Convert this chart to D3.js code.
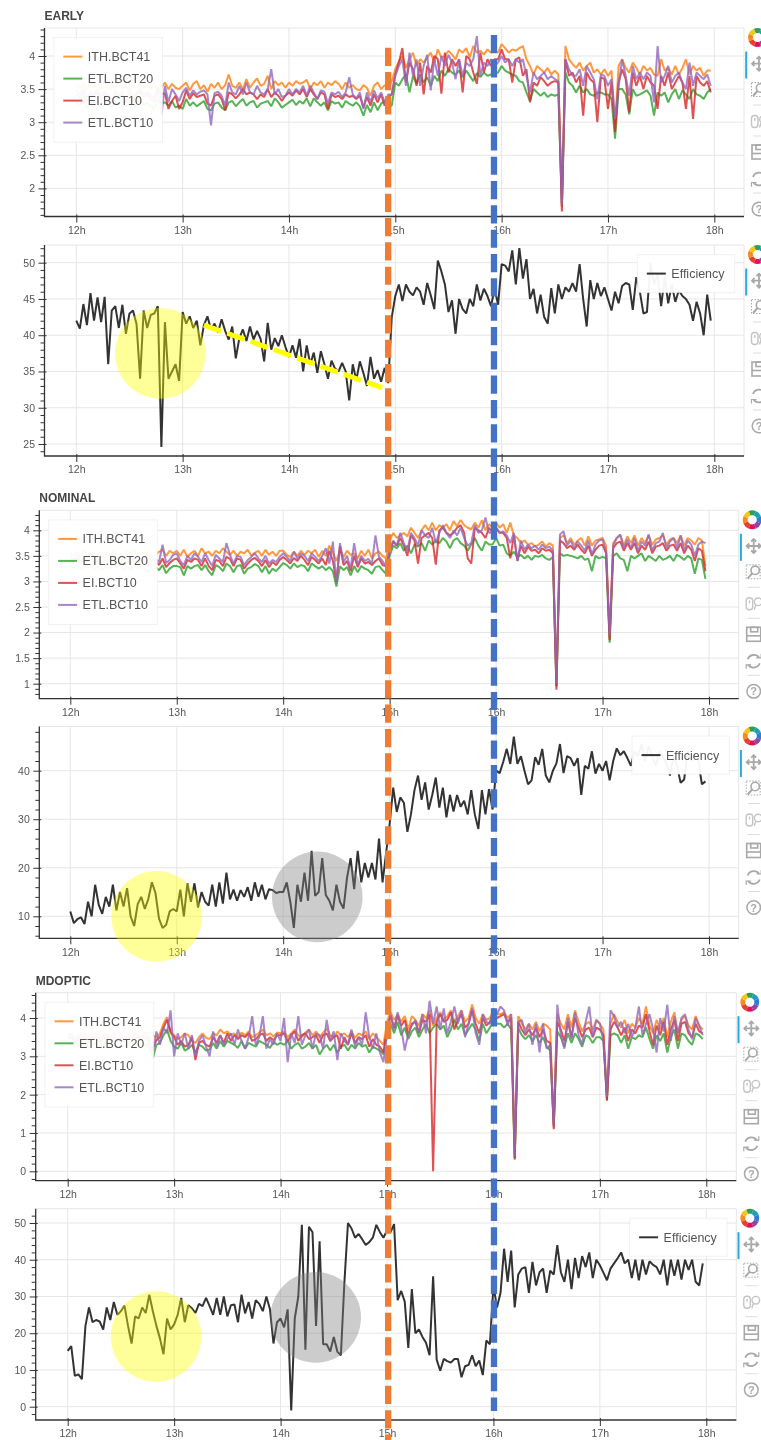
<!DOCTYPE html>
<html>
<head>
<meta charset="utf-8">
<script src="https://cdn.jsdelivr.net/npm/d3@7"></script>
<style>
  html, body { margin: 0; padding: 0; background: #fff; overflow: hidden; }
  text { font-family: "Liberation Sans", Arial, sans-serif; }
  svg { filter: blur(0.35px); }
</style>
</head>
<body>
<div id="chart"></div>
<script>
// series names
var lineNames = ["ITH.BCT41", "ETL.BCT20", "EI.BCT10", "ETL.BCT10"];
var effName = "Efficiency";
var lineColors = ["#ff7f0e", "#2ca02c", "#d62728", "#9467bd"];
var hourTicks = [12, 13, 14, 15, 16, 17, 18];

// all series are one value every 2 minutes from 12h, three rows per hour
var earlyIth = [
3.55,3.5,3.58,3.48,3.6,3.52,3.56,3.5,3.6,3.48,
3.56,3.52,3.6,3.5,3.55,3.48,3.58,3.52,3.6,3.5,
3.56,3.5,3.58,3.46,3.52,3.6,3.5,3.58,3.52,3.5,
3.55,3.6,3.48,3.58,3.62,3.5,3.56,3.46,3.58,3.52,
3.6,3.5,3.56,3.72,3.55,3.52,3.6,3.5,3.65,3.52,
3.6,3.66,3.55,3.58,3.7,3.5,3.62,3.56,3.6,3.52,
3.6,3.55,3.62,3.58,3.6,3.64,3.5,3.6,3.56,3.62,
3.52,3.6,3.56,3.62,3.58,3.5,3.6,3.52,3.56,3.5,
3.48,3.56,3.52,3.4,3.55,3.6,3.5,3.56,3.5,3.62,
3.8,3.92,4,3.82,3.95,4.05,3.85,3.95,3.9,3.98,
4.05,3.9,4.1,3.98,4,4.08,4.02,3.95,4.1,4.05,
4.12,3.98,4.15,4.05,4.08,4.02,4.1,4.05,4.08,4.05,
4.18,4.12,4.05,4.1,4.08,4.12,4.15,3.95,3.85,3.72,
3.85,3.8,3.75,3.82,3.72,3.78,3.72,1.72,4.15,3.95,
3.88,3.82,3.9,3.78,3.85,3.9,3.75,3.8,3.72,3.8,
3.7,3.78,2.95,3.85,3.95,3.82,3.75,3.9,3.82,3.72,
3.85,3.78,3.82,3.72,3.7,3.95,3.78,3.82,3.72,3.85,
3.72,3.82,3.95,3.72,3.85,3.78,3.82,3.7,3.78,3.78];
var earlyEtl20 = [
3.3,3.26,3.33,3.22,3.3,3.28,3.32,3.2,3.3,3.25,
3.22,3.3,3.26,3.32,3.24,3.3,3.2,3.28,3.33,3.25,
3.3,3.24,3.2,3.35,3.28,3.3,3.25,3.32,3.22,3.25,
3.2,3.35,3.25,3.3,3.24,3.28,3.32,3.2,3.18,3.28,
3.3,3.22,3.18,3.3,3.32,3.24,3.3,3.35,3.25,3.3,
3.32,3.22,3.28,3.3,3.32,3.24,3.36,3.3,3.22,3.26,
3.3,3.34,3.26,3.32,3.28,3.36,3.24,3.36,3.3,3.25,
3.3,3.18,3.32,3.28,3.3,3.22,3.32,3.28,3.25,3.3,
3.24,3.1,3.26,3.15,3.3,3.18,3.28,3.32,3.25,3.25,
3.6,3.55,3.65,3.72,3.45,3.7,3.58,3.72,3.6,3.68,
3.55,3.7,3.62,3.78,3.7,3.8,3.75,3.72,3.78,3.68,
3.78,3.7,3.62,3.74,3.68,3.75,3.7,3.72,3.74,3.75,
3.85,3.78,3.75,3.72,3.7,3.62,3.6,3.45,3.32,3.5,
3.45,3.4,3.45,3.38,3.42,3.4,3.42,1.75,3.75,3.6,
3.55,3.45,3.55,3.45,3.5,3.42,3.4,3.45,3.45,3.42,
3.42,3.35,2.75,3.5,3.5,3.42,3.12,3.5,3.4,3.42,
3.45,3.48,3.4,3.1,3.45,3.4,3.45,3.3,3.42,3.5,
3.35,3.48,3.42,3.35,3.5,3.42,3.4,3.35,3.45,3.5];
var earlyEi = [
3.42,3.38,3.45,3.3,3.42,3.4,3.45,3.35,3.42,3.38,
3.3,3.44,3.4,3.42,3.3,3.45,3.32,3.42,3.46,3.38,
3.42,3.35,3.3,3.5,3.42,3.44,3.2,3.32,3.4,3.2,
3.3,3.48,3.35,3.44,3.38,3.4,3.42,3.28,3.25,3.4,
3.42,3.35,3.18,3.45,3.42,3.36,3.42,3.5,3.42,3.45,
3.42,3.35,3.42,3.38,3.5,3.38,3.45,3.4,3.32,3.4,
3.45,3.4,3.48,3.42,3.5,3.38,3.5,3.42,3.35,3.45,
3.42,3.2,3.42,3.38,3.4,3.35,3.42,3.38,3.4,3.35,
3.4,3.22,3.38,3.25,3.42,3.3,3.42,3.25,3.38,3.42,
3.72,3.9,4.12,3.6,3.9,3.8,3.55,3.9,3.42,3.85,
3.75,4,3.95,3.43,4.05,3.75,3.95,3.85,3.95,3.45,
4,3.95,3.75,3.58,4.05,3.75,3.95,3.85,3.95,3.95,
4.1,3.95,3.95,3.6,3.95,3.98,3.7,3.8,3.3,3.6,
3.55,3.68,3.62,3.55,3.6,3.62,3.6,1.65,3.95,3.7,
3.75,3.6,3.7,3.1,3.75,3.65,3.6,3,3.68,3.65,
3.2,3.6,2.85,3.6,3.8,3.65,3.15,3.75,3.55,3.7,
3.5,3.7,3.6,3.55,3.2,3.7,3.55,3.75,3.5,3.6,
3.7,3.6,3.2,3.7,3.05,3.7,3.6,3.55,3.62,3.45];
var earlyEtl10 = [
3.48,3.42,3.5,3.36,3.46,3.44,3.5,3.38,3.46,3.42,
3.34,3.48,3.44,3.46,3.35,3.5,3.38,3.46,3.5,3.42,
3.46,3.4,3.36,3.52,3.1,3.55,3.3,3.5,3.42,3.32,
3.45,3.52,3.4,3.48,3.42,3.46,3.48,3.42,2.95,3.44,
3.46,3.4,3.25,3.6,3.45,3.42,3.55,3.42,3.6,3.45,
3.42,3.55,3.45,3.42,3.5,3.8,3.42,3.5,3.38,3.4,
3.5,3.42,3.5,3.45,3.55,3.4,3.55,3.45,3.35,3.48,
3.46,3.28,3.45,3.42,3.46,3.38,3.45,3.68,3.42,3.36,
3.45,3.2,3.45,3.3,3.48,3.36,3.45,3.3,3.42,3.42,
3.7,3.85,3.95,3.55,4.05,3.7,3.95,3.55,3.85,4.02,
3.48,3.95,3.7,4,3.85,4.02,3.9,3.65,3.95,3.7,
3.9,3.85,3.95,4.3,3.7,3.9,3.85,3.95,3.85,3.9,
4,3.9,3.95,3.85,3.95,3.9,3.95,3.7,3.45,3.75,
3.65,3.7,3.75,3.65,3.7,3.65,3.62,1.75,3.95,3.8,
3.7,3.7,3.8,3.55,3.85,3.75,3.65,3.35,3.72,3.7,
3.55,3.65,3.05,3.55,3.95,3.7,3.4,3.85,3.65,3.75,
3.65,3.75,3.7,3.3,4.15,3.6,3.7,3.85,3.6,3.7,
3.75,3.6,3.5,3.9,3.55,3.75,3.7,3.65,3.72,3.55];

var nominalIth = [
3.55,3.5,3.58,3.48,3.6,3.5,3.55,3.46,3.58,3.5,
3.56,3.48,3.6,3.52,3.55,3.48,3.6,3.55,3.62,3.52,
3.58,3.5,3.56,3.48,3.52,3.58,3.62,3.5,3.6,3.55,
3.6,3.5,3.62,3.48,3.55,3.6,3.5,3.65,3.55,3.58,
3.5,3.6,3.55,3.65,3.58,3.52,3.6,3.5,3.58,3.55,
3.62,3.5,3.56,3.6,3.5,3.62,3.52,3.58,3.5,3.6,
3.6,3.52,3.48,3.58,3.5,3.6,3.52,3.6,3.55,3.62,
3.48,3.6,3.5,3.7,3.55,3.4,3.62,3.48,3.6,3.52,
3.55,3.45,3.6,3.5,3.62,3.45,3.55,3.58,3.5,3.45,
3.8,3.95,3.85,3.9,3.95,3.88,4.05,3.95,3.85,4,
4.1,4,4.15,4,4.1,4.05,4.12,4,4.18,4.08,
4.2,4.1,4.05,4.02,4.15,4.05,4.2,4,4.12,4.05,
4.15,4.05,4.12,3.95,4.15,3.9,3.85,3.75,3.8,3.72,
3.75,3.68,3.72,3.78,3.68,3.75,3.7,0.95,3.85,3.9,
3.75,3.85,3.72,3.8,3.85,3.7,3.88,3.7,3.8,3.82,
3.85,3.7,1.9,3.75,3.85,3.9,3.7,3.88,3.75,3.9,
3.7,3.85,3.75,3.9,3.72,3.82,3.85,3.9,3.72,3.82,
3.85,3.75,3.9,3.7,3.85,3.8,3.72,3.85,3.8,3.3];
var nominalEtl20 = [
3.3,3.26,3.32,3.24,3.3,3.28,3.32,3.25,3.3,3.22,
3.3,3.25,3.32,3.28,3.3,3.22,3.28,3.22,3.3,3.26,
3.3,3.24,3.18,3.3,3.28,3.22,3.32,3.16,3.25,3.3,
3.3,3.28,3.12,3.3,3.25,3.3,3.32,3.22,3.32,3.2,
3.12,3.32,3.28,3.2,3.35,3.3,3.18,3.3,3.32,3.15,
3.25,3.28,3.34,3.3,3.18,3.3,3.15,3.25,3.2,3.28,
3.36,3.32,3.25,3.35,3.28,3.32,3.3,3.2,3.35,3.3,
3.25,3.3,3.22,3.28,3.2,2.9,3.3,3.22,3.28,3.12,
3.3,3.18,3.3,3.25,3.22,3.15,3.28,3.3,3.22,3.15,
3.5,3.7,3.65,3.75,3.6,3.7,3.55,3.72,3.68,3.75,
3.6,3.8,3.72,3.8,3.75,3.85,3.78,3.65,3.8,3.85,
3.75,3.7,3.6,3.72,3.85,3.7,3.6,3.78,3.72,3.72,
3.85,3.7,3.72,3.55,3.5,3.58,3.48,3.52,3.45,3.5,
3.42,3.5,3.48,3.52,3.45,3.42,3.48,0.95,3.55,3.5,
3.52,3.5,3.48,3.45,3.5,3.42,3.45,3.2,3.5,3.45,
3.48,3.45,1.8,3.5,3.55,3.45,3.42,3.2,3.5,3.45,
3.5,3.55,3.4,3.5,3.45,3.4,3.5,3.42,3.45,3.5,
3.4,3.52,3.48,3.42,3.5,3.45,3.15,3.45,3.42,3.05];
var nominalEi = [
3.42,3.38,3.45,3.35,3.42,3.4,3.44,3.36,3.42,3.32,
3.42,3.38,3.45,3.4,3.42,3.35,3.4,3.35,3.44,3.38,
3.42,3.36,3.3,3.42,3.4,3.32,3.45,3.28,3.36,3.42,
3.45,3.35,3.25,3.42,3.38,3.45,3.42,3.3,3.45,3.3,
3.22,3.42,3.4,3.3,3.48,3.44,3.3,3.45,3.42,3.25,
3.35,3.42,3.46,3.4,3.3,3.42,3.28,3.38,3.32,3.42,
3.48,3.42,3.35,3.46,3.4,3.5,3.42,3.32,3.48,3.42,
3.35,3.45,3.32,3.6,3.4,3,3.7,3.32,3.4,3.2,
3.5,3.28,3.45,3.35,3.38,3.32,3.4,3.45,3.32,3.3,
3.6,3.78,3.7,3.85,3.7,3.5,3.9,3.8,3.35,3.85,
3.9,3.95,3.85,3.33,4,4.05,3.95,3.9,3.95,4.05,
4.1,3.95,3.45,3.35,4.05,4,3.95,3.85,4.05,3.95,
4.05,3.95,3.95,3.85,3.45,3.9,3.4,3.7,3.55,3.68,
3.6,3.62,3.55,3.65,3.6,3.62,3.55,0.88,3.8,3.75,
3.65,3.7,3.62,3.72,3.62,3.55,3.7,3.5,3.62,3.7,
3.72,3.55,1.85,3.65,3.75,3.78,3.6,3.75,3.62,3.75,
3.55,3.7,3.62,3.78,3.55,3.68,3.7,3.75,3.6,3.7,
3.72,3.6,3.75,3.55,3.7,3.62,3.4,3.65,3.6,3.2];
var nominalEtl10 = [
3.48,3.42,3.52,3.38,3.5,3.44,3.52,3.4,3.48,3.36,
3.5,3.44,3.52,3.45,3.48,3.4,3.45,3.4,3.5,3.42,
3.46,3.4,3.35,3.48,3.44,3.38,3.72,3.36,3.42,3.52,
3.55,3.4,3.32,3.5,3.42,3.55,3.48,3.38,3.55,3.42,
3.3,3.52,3.45,3.38,3.75,3.52,3.35,3.5,3.48,3.32,
3.42,3.48,3.55,3.45,3.38,3.5,3.35,3.42,3.38,3.48,
3.55,3.48,3.4,3.58,3.45,3.55,3.5,3.4,3.55,3.48,
3.4,3.5,3.65,3.35,3.78,2.95,3.75,3.38,3.5,3.25,
3.75,3.32,3.5,3.4,3.44,3.35,3.9,3.48,3.4,3.28,
3.55,3.8,3.7,3.95,3.75,3.6,3.95,3.85,3.7,4,
3.9,3.85,4.05,3.75,3.95,4.1,3.95,3.85,4,3.9,
4.05,3.85,3.7,3.75,4.1,3.95,4,4.25,3.95,3.95,
4.05,3.95,3.98,3.9,3.75,3.95,3.4,3.8,3.62,3.72,
3.65,3.7,3.62,3.72,3.65,3.68,3.6,1,3.92,3.98,
3.7,3.8,3.65,3.78,3.7,3.6,3.8,3.52,3.72,3.8,
3.82,3.6,1.95,3.7,3.85,3.92,3.65,3.82,3.65,3.85,
3.6,3.78,3.7,3.92,3.6,3.75,3.78,3.95,3.65,3.78,
3.85,3.65,3.9,3.6,3.8,3.72,3.5,3.72,3.78,3.75];

var mdopticIth = [
3.55,3.6,3.45,3.58,3.5,3.62,3.45,3.55,3.6,3.48,
3.55,3.6,3.5,3.62,3.45,3.58,3.48,3.6,3.52,3.62,
3.55,3.5,3.62,3.45,3.55,3.48,3.6,3.85,4.02,3.6,
3.55,3.45,3.5,3.6,3.55,3.4,3.35,3.5,3.6,3.48,
3.45,3.6,3.55,3.7,3.6,3.65,3.55,3.6,3.5,3.62,
3.55,3.65,3.5,3.55,3.62,3.7,3.55,3.6,3.52,3.62,
3.6,3.65,3.5,3.6,3.7,3.55,3.5,3.62,3.7,3.55,
3.65,3.5,3.62,3.72,3.55,3.5,3.65,3.55,3.6,3.5,
3.65,3.48,3.6,3.55,3.65,3.45,3.6,3.5,3.4,3.3,
3.9,4.15,3.95,4.1,3.9,4.05,3.7,4.05,3.95,3.8,
4.1,4,4.2,3.8,4,4.15,3.95,4.05,4.2,3.9,
4.05,4.2,3.9,4,4.35,4,3.85,4.1,3.95,4,
4.2,4.1,4.1,4.15,4,4.1,0.32,4.05,3.85,3.7,
3.85,3.7,3.9,3.65,3.85,3.8,3.7,1.15,4.1,3.85,
3.7,4.1,3.75,4.2,3.9,3.65,3.85,3.9,3.7,3.95,
3.85,3.7,1.9,3.85,4.1,3.9,3.75,3.95,3.6,3.85,
3.75,4,3.85,4.3,3.8,3.6,3.95,3.7,4,3.5,
3.9,4.15,3.6,3.95,4.05,3.8,3.7,4.05,3.8,3.7];
var mdopticEtl20 = [
3.3,3.35,3.25,3.3,3.28,3.35,3.22,3.3,3.35,3.25,
3.3,3.35,3.28,3.32,3.22,3.3,3.25,3.32,3.28,3.35,
3.3,3.25,3.32,3.22,2.95,3.3,3.35,3.55,3.7,3.4,
3.25,3.2,3.35,3.15,3.2,3.3,3.1,3.3,3.25,3.15,
3.18,3.35,3.2,3.4,3.25,3.4,3.35,3.3,3.22,3.4,
3.2,3.35,3.3,3.25,3.4,3.35,3.3,3.22,3.38,3.3,
3.35,3.3,3.4,3.2,3.3,3.35,3.2,3.25,3.35,3.2,
3.3,3.05,3.2,3.3,3.15,3.3,3.1,3.25,3.3,3.15,
3.3,3.2,3.35,3.25,3.3,3.1,3.25,3.2,3.15,3.05,
3.55,3.85,3.6,3.9,3.55,3.75,3.45,3.65,3.75,3.5,
3.7,3.85,3.6,3.75,3.85,3.7,3.8,3.5,3.7,3.95,
3.7,3.85,3.55,3.7,3.85,3.7,3.4,3.85,3.6,3.75,
3.9,3.85,3.85,3.75,3.85,3.7,0.3,3.75,3.55,3.45,
3.55,3.4,3.55,3.35,3.5,3.25,3.15,1.2,3.65,3.5,
3.25,3.6,3.35,3.6,3.45,3.25,3.55,3.5,3.35,3.5,
3.5,3.4,1.85,3.55,3.6,3.55,3.35,3.55,3.2,3.5,
3.45,3.55,3.5,3.75,3.45,3.2,3.55,3.4,3.6,3.1,
3.5,3.7,3.2,3.6,3.55,3.4,3.3,3.6,3.55,3.45];
var mdopticEi = [
3.45,3.5,3.35,3.45,3.42,3.5,3.35,3.45,3.48,3.35,
3.45,3.48,3.42,3.45,3.35,3.45,3.4,3.48,3.42,3.5,
3.45,3.4,3.48,3.35,3.2,3.42,3.5,3.75,3.95,3.65,
3.5,3.3,3.4,3.25,3.3,3.5,2.9,3.35,3.4,3.3,
3.25,3.5,3.35,3.55,3.35,3.6,3.4,3.55,3.45,3.55,
3.5,3.6,3.4,3.45,3.55,3.6,3.4,3.5,3.42,3.55,
3.55,3.6,3.4,3.55,3.65,3.4,3.55,3.6,3.45,3.5,
3.55,3.35,3.55,3.6,3.4,3.5,3.55,3.2,3.5,3.3,
3.6,3.35,3.5,3.45,3.55,3.25,3.45,3.3,3.25,3.1,
3.75,4.05,3.75,4.05,3.8,3.95,3.55,3.85,3.9,3.6,
3.95,3.9,4.1,0,3.9,4.1,3.9,3.95,4.15,3.7,
3.95,4.1,3.75,3.85,4.2,3.85,3.6,4,3.8,3.9,
4.1,4,4.05,4.1,3.9,4,0.35,3.9,3.7,3.55,
3.7,3.55,3.75,3.5,3.7,3.4,3.35,1.1,3.9,3.7,
3.4,3.9,3.5,4,3.75,3.5,3.7,3.75,3.5,3.75,
3.7,3.55,1.85,3.7,3.9,3.75,3.55,3.75,3.4,3.7,
3.6,3.8,3.75,4.1,3.65,3.3,3.8,3.55,3.9,3.3,
3.7,3.95,3.4,3.85,3.9,3.6,3.5,3.85,3.65,3.6];
var mdopticEtl10 = [
3.5,3.58,3.4,3.5,3.45,3.55,3.38,3.5,3.52,3.4,
3.5,3.55,3.45,3.5,3.38,3.5,3.44,3.52,3.46,3.55,
3.5,3.44,3.52,3.4,3.1,3.65,3.3,3.75,3.6,4.2,
3,3.6,3.3,3.6,3.2,3.55,3,3.4,3.55,3.25,
3,3.65,3.25,3.55,3.3,3.45,3.6,3.3,3.7,3.4,
3.2,3.5,4.05,3.3,3.5,4.05,3.2,3.45,3.3,3.6,
3.4,4,2.85,3.6,3.35,4.05,3.3,3.55,3.7,3.2,
3.6,3.55,3.2,3.95,3.4,3.65,2.9,3.6,3.4,3.3,
3.7,3.25,3.5,3.3,4.15,3.5,3.2,3.6,3.1,2.85,
3.6,4.1,3.7,4.15,3.75,3.15,3.6,3.8,3.95,3.6,
4.1,3.6,4.45,3.85,4.3,3.7,4.25,3.6,3.9,4.3,
3.85,4.2,3.5,3.85,4.25,3.6,3.3,4.1,3.9,3.85,
4.25,4.1,4.3,4.2,3.8,4.1,0.4,3.9,3.95,3.6,
3.85,3.3,3.85,3.1,3.85,3.2,3.3,1.2,4.35,3.55,
3.2,4,3.45,4.15,3.55,3.3,3.9,4.3,3.5,3.95,
3.85,3.4,1.95,4.2,4.05,3.75,3.9,3.6,3.85,3.5,
3.75,4.3,3.55,3.85,4.1,3.7,3.1,4,3.65,4.35,
3.4,4.05,3.6,4,4.1,3.7,3.45,4,3.8,3.55];

var earlyEff = [
42,40.9,44.3,41.4,45.8,42,45.2,41.8,45.3,36,43.4,44,41,44.2,40.2,43,43.4,41.5,34,43.4,41,42.8,43,44,24.6,41.8,34,35,36,33.7,
43.2,41.6,42.6,41,42,38.6,41.4,42.6,40.8,41.6,40.4,42.2,40.6,39.4,41.2,36.8,39.6,40.8,39.2,41.2,39.4,40.6,39.5,36.4,41.7,38,39.6,38.5,40,38.4,
37,38.6,36.9,39.5,35,38.6,36,37.6,34.8,37.8,36,34,36.5,35.4,35,36.2,35,31,36,33.8,36.4,34.8,33,37,34,35.2,33.6,35.5,33.4,42.5,
45.4,47,44.7,47,46,45.5,46.6,46,44.2,47.2,45.5,43.6,50.3,48.8,47,43.2,44.8,40.2,45,43.6,43,45,44,47,44.8,46.4,45.4,44,46.4,44.2,
49.8,49.6,48.8,51.7,47,52,47.8,50.5,45,46.4,43,45.6,42.5,41.6,46.5,43,47,45,46.6,46,47.2,46,49.8,45,41.2,47.6,45,47.2,45.4,46.6,
45,43.4,46,44.4,46.8,47.2,47,43.5,48,46,43,43.2,50,47,48.4,44,48,44.4,47,44.6,46.2,45.4,45,44.2,42,44.6,43,40,45.6,42];
var nominalEff = [
11,8.6,9.4,9.8,8.4,13,10,16.5,12.4,10.5,14,12,16.5,11.2,15,12,15.8,10,8,12.5,14,11.5,13.6,17,14.8,9.5,7.6,8.2,11,11.5,
11,15.5,10,16.8,13,16.8,11.8,15,13,12.2,16.5,12,17,12.6,19,13.5,15.5,13.2,15.4,14,16,13.2,17,14,16.5,13.5,15.6,15.4,14.8,15,
15,17,13,7.6,16.5,13,19,13.2,23.5,14.2,15,22,14.4,13.2,11.2,16.5,13,11.6,18,22,15.6,23.5,17,21,18,21,17.6,26,17,23,
29,36.5,31.5,34.5,33.4,27.4,31,36,39,34,37.6,32,35,38.6,32.4,36.5,30.4,35,31.6,35,32.6,33.8,31,36,31,28,36,31,36.2,32,
40,39.5,41.8,44.5,41.4,47,41.4,43,40,37.2,38,42.8,41.2,44.5,39,37.6,40,41.5,45.5,39.5,43,42.6,41,42.6,35,41,40.4,44,39.4,41.4,
40,42,38,42,44.6,43.2,44,42.6,41,44,43,45.5,42,45,43,41,44,43,41.5,39,43,41,37.5,38.2,44,42,43.6,42,37.2,37.8];
var mdopticEff = [
15.2,16.5,8.4,8.8,7.5,22,27,23,23.6,23.2,21,27,23.6,28.5,25,26,27.5,22,17.2,24.6,24,27,25.5,30.5,26,22,18.6,14.3,24,21,
22.4,25,29.6,23,27.6,26.8,25.5,28,27.4,29.6,27.4,25,29.6,25,30,24.6,27.6,27.8,23,30.5,25.4,28.5,24,29,28,26,30,26.6,17.2,23,
24,21.6,26.5,-1,24,30,49.5,15.5,49,47.5,22,45,17,17,15,19,15,14,34,50,48.5,46,47,45.6,44,44.8,46,49.5,47.5,46,
48,47.5,49.7,29,31.5,28.6,16,32,20,21,19,17.4,14,35.5,12.8,9.8,13,12.4,12,13,13,8,11,11.4,14,11,12.6,8.6,18,17,
33,27,31,43,34,42.5,27,36,37.6,38,31,39.4,33,36.6,37.6,31,37,36,44,36.6,34,40,32,40.5,35,41,38,42,35,40,
38.5,36.5,34.4,37.6,39,40.4,42,39,40,35,40,34.4,40,36,39.6,38.6,38,36,40,33,40,35.6,40,34.6,40,37.2,40,34,33,39];

// highlight circles and the trend line, read as [hour, value] on their own panel
var earlyYellow = [12.79, 37.5];
var nominalYellow = [12.81, 10];
var nominalGray = [14.32, 14];
var mdopticYellow = [12.83, 19.1];
var mdopticGray = [14.33, 24.3];
var earlyTrend = [[13.2, 41.4], [14.876, 32.76]];
var orangeHour = 14.933;
var blueHour = 15.928;

var w = 761, h = 1440;
var step = 2 / 60;

var svg = d3.select("#chart").append("svg")
    .attr("width", w).attr("height", h)
    .style("display", "block");

var panels = [
  {title: "EARLY", left: 44.5, right: 744, top: 28, bottom: 216.5, x12: 76.3, x18: 714.3,
   yRef: [4, 2], yPx: [56, 188.4], major: 0.5, minor: 0.1, lines: [earlyIth, earlyEtl20, earlyEi, earlyEtl10]},
  {left: 44.5, right: 744, top: 245, bottom: 456, x12: 76.3, x18: 714.3,
   yRef: [50, 25], yPx: [262.7, 444], major: 5, minor: 1, eff: earlyEff},
  {title: "NOMINAL", left: 39.3, right: 738.7, top: 510.3, bottom: 698.7, x12: 70.3, x18: 709,
   yRef: [4, 1], yPx: [530.3, 683.7], major: 0.5, minor: 0.1, lines: [nominalIth, nominalEtl20, nominalEi, nominalEtl10]},
  {left: 39.3, right: 738.7, top: 726.5, bottom: 938.3, x12: 70.3, x18: 709,
   yRef: [40, 10], yPx: [770.7, 916.3], major: 10, minor: 2, eff: nominalEff},
  {title: "MDOPTIC", left: 35.7, right: 736.3, top: 992.7, bottom: 1180.7, x12: 67.7, x18: 706.3,
   yRef: [4, 0], yPx: [1018, 1171.3], major: 1, minor: 0.2, lines: [mdopticIth, mdopticEtl20, mdopticEi, mdopticEtl10]},
  {left: 35.7, right: 736.3, top: 1208.7, bottom: 1420, x12: 67.7, x18: 706.3,
   yRef: [50, 0], yPx: [1223, 1406.7], major: 10, minor: 2, eff: mdopticEff}
];

panels.forEach(function(p) {
  p.x = d3.scaleLinear().domain([12, 18]).range([p.x12, p.x18]);
  p.y = d3.scaleLinear().domain(p.yRef).range(p.yPx);
  drawPanel(p);
  drawToolbar(p);
});

function drawPanel(p) {
  var g = svg.append("g");
  var yTop = p.y.invert(p.top), yBottom = p.y.invert(p.bottom);

  if (p.title) {
    g.append("text")
      .attr("x", p.left).attr("y", p.top - 8)
      .attr("font-size", 12).attr("font-weight", "bold").attr("fill", "#444")
      .text(p.title);
  }

  var majors = [], minors = [];
  for (var k = Math.ceil(yBottom / p.minor - 1e-6); k * p.minor <= yTop; k++) {
    var v = +(k * p.minor).toFixed(4);
    var isMajor = Math.abs(v / p.major - Math.round(v / p.major)) < 1e-6;
    if (isMajor) majors.push(v); else minors.push(v);
  }

  // grid
  g.selectAll(".gy").data(majors).enter().append("line")
    .attr("x1", p.left).attr("x2", p.right)
    .attr("y1", function(d) { return p.y(d); }).attr("y2", function(d) { return p.y(d); })
    .attr("stroke", "#e6e6e6");
  g.selectAll(".gx").data(hourTicks).enter().append("line")
    .attr("y1", p.top).attr("y2", p.bottom)
    .attr("x1", function(d) { return p.x(d); }).attr("x2", function(d) { return p.x(d); })
    .attr("stroke", "#e6e6e6");
  g.append("path")
    .attr("d", "M" + p.left + "," + p.top + "H" + p.right + "V" + p.bottom)
    .attr("fill", "none").attr("stroke", "#e6e6e6");

  // lines
  var series = p.lines || [p.eff];
  var line = d3.line()
    .x(function(d, i) { return p.x(12 + i * step); })
    .y(function(d) { return p.y(d); });
  series.forEach(function(values, i) {
    g.append("path")
      .attr("d", line(values))
      .attr("fill", "none")
      .attr("stroke", p.lines ? lineColors[i] : "#000")
      .attr("stroke-opacity", 0.8)
      .attr("stroke-width", 2)
      .attr("stroke-linejoin", "bevel");
  });

  // axes
  var xAxis = g.append("g")
    .attr("transform", "translate(0," + p.bottom + ")")
    .call(d3.axisBottom(p.x).tickValues(hourTicks).tickFormat(function(d) { return d + "h"; })
      .tickSize(6).tickPadding(4));
  var yMinor = g.append("g")
    .attr("transform", "translate(" + p.left + ",0)")
    .call(d3.axisLeft(p.y).tickValues(minors).tickSize(4).tickFormat(""));
  var yAxis = g.append("g")
    .attr("transform", "translate(" + p.left + ",0)")
    .call(d3.axisLeft(p.y).tickValues(majors).tickFormat(d3.format("~g")).tickSize(6).tickPadding(3.5));

  xAxis.selectAll(".tick line").attr("y1", -2);
  yAxis.selectAll(".tick line").attr("x1", 2);
  [xAxis, yAxis, yMinor].forEach(function(a) {
    a.select(".domain").remove();
    a.selectAll(".tick line").attr("stroke", "#333");
    a.selectAll("text")
      .attr("font-family", "Liberation Sans, Arial, sans-serif")
      .attr("font-size", 10.5).attr("fill", "#555");
  });
  g.append("path")
    .attr("d", "M" + p.left + "," + p.top + "V" + p.bottom + "H" + p.right)
    .attr("fill", "none").attr("stroke", "#333").attr("stroke-width", 1.3);

  drawLegend(p, g);
}

function drawLegend(p, g) {
  var names = p.lines ? lineNames : [effName];
  var colors = p.lines ? lineColors : ["#000"];
  var bw = p.lines ? 108.7 : 97.4;
  var bh = p.lines ? 104.6 : 38;
  var bx = p.lines ? p.left + 9.3 : p.right - 9.3 - bw;
  var by = p.top + 9.6;
  var leg = g.append("g").attr("transform", "translate(" + bx + "," + by + ")");
  leg.append("rect")
    .attr("width", bw).attr("height", bh)
    .attr("fill", "#fff").attr("fill-opacity", 0.95)
    .attr("stroke", "#e6e6e6").attr("stroke-opacity", 0.5);
  names.forEach(function(name, i) {
    var cy = 19 + i * 22;
    leg.append("line")
      .attr("x1", 9.5).attr("x2", 28.5).attr("y1", cy).attr("y2", cy)
      .attr("stroke", colors[i]).attr("stroke-opacity", 0.8).attr("stroke-width", 2);
    leg.append("text")
      .attr("x", 34).attr("y", cy + 4.5)
      .attr("font-size", 12.5).attr("fill", "#555")
      .text(name);
  });
}

function drawToolbar(p) {
  var iconGray = "#a8a8a8";
  var tx = p.right + 15;
  var g = svg.append("g");

  // logo wheel
  var logo = ["#2ca05a", "#17a2b8", "#2a7fd4", "#8e44ad", "#e0115f", "#e8402a", "#f58a1f", "#f5c518"];
  var arc = d3.arc().innerRadius(4.6).outerRadius(9.5);
  var pie = d3.pie().value(1).sort(null).startAngle(-Math.PI / 8).endAngle(2 * Math.PI - Math.PI / 8);
  g.append("g")
    .attr("transform", "translate(" + (p.right + 13.5) + "," + (p.top + 9.5) + ")")
    .selectAll("path").data(pie(logo)).enter().append("path")
    .attr("d", arc)
    .attr("fill", function(d) { return d.data; });

  // active marker
  g.append("rect")
    .attr("x", p.right + 1.2).attr("y", p.top + 23.5)
    .attr("width", 2).attr("height", 27)
    .attr("fill", "#26aae1");

  // separators
  [77, 108, 165].forEach(function(dy) {
    g.append("line")
      .attr("x1", tx - 6).attr("x2", tx + 6)
      .attr("y1", p.top + dy).attr("y2", p.top + dy)
      .attr("stroke", "#ddd");
  });

  // pan
  var pan = g.append("g").attr("transform", "translate(" + tx + "," + (p.top + 35.7) + ")")
    .attr("fill", "none").attr("stroke", iconGray).attr("stroke-width", 1.8);
  pan.append("path").attr("d", "M-7,0H7M0,-7V7");
  pan.append("path").attr("d", "M-4.5,-2.5L-7,0L-4.5,2.5M4.5,-2.5L7,0L4.5,2.5M-2.5,-4.5L0,-7L2.5,-4.5M-2.5,4.5L0,7L2.5,4.5");

  // box zoom
  var box = g.append("g").attr("transform", "translate(" + tx + "," + (p.top + 62) + ")")
    .attr("fill", "none").attr("stroke", iconGray);
  box.append("rect").attr("x", -7.5).attr("y", -7.5).attr("width", 14).attr("height", 14)
    .attr("stroke-dasharray", "1.5 1.5");
  box.append("circle").attr("cx", 1.5).attr("cy", -2).attr("r", 4.2).attr("stroke-width", 1.6).attr("fill", "#fff");
  box.append("line").attr("x1", -1.5).attr("y1", 1).attr("x2", -6).attr("y2", 6).attr("stroke-width", 2);

  // wheel zoom
  var wheel = g.append("g").attr("transform", "translate(" + tx + "," + (p.top + 94) + ")")
    .attr("fill", "none").attr("stroke", "#c4c4c4").attr("stroke-width", 1.4);
  wheel.append("rect").attr("x", -7.5).attr("y", -6.5).attr("width", 6.5).attr("height", 12).attr("rx", 3);
  wheel.append("line").attr("x1", -4.2).attr("x2", -4.2).attr("y1", -4).attr("y2", -1);
  wheel.append("circle").attr("cx", 4.5).attr("cy", -2.5).attr("r", 3.8);
  wheel.append("line").attr("x1", 2).attr("y1", 1).attr("x2", 0.5).attr("y2", 5.5);

  // save
  var save = g.append("g").attr("transform", "translate(" + tx + "," + (p.top + 124) + ")")
    .attr("fill", "none").attr("stroke", iconGray).attr("stroke-width", 1.6);
  save.append("rect").attr("x", -7).attr("y", -7).attr("width", 14).attr("height", 14);
  save.append("rect").attr("x", -3).attr("y", -7).attr("width", 7).attr("height", 4.5);
  save.append("line").attr("x1", -7).attr("x2", 7).attr("y1", 1.5).attr("y2", 1.5);

  // reset
  var reset = g.append("g").attr("transform", "translate(" + tx + "," + (p.top + 151) + ")")
    .attr("fill", "none").attr("stroke", iconGray).attr("stroke-width", 1.8);
  reset.append("path").attr("d", "M-6,-2A6.5,6.5 0 0 1 5.5,-3.5");
  reset.append("path").attr("d", "M6,2A6.5,6.5 0 0 1 -5.5,3.5");
  reset.append("path").attr("d", "M2.5,-3.5H7.5V-7.5M-2.5,3.5H-7.5V7.5").attr("stroke-width", 1.2);

  // help
  var help = g.append("g").attr("transform", "translate(" + tx + "," + (p.top + 181) + ")");
  help.append("circle").attr("r", 6.8).attr("fill", "none").attr("stroke", iconGray).attr("stroke-width", 1.5);
  help.append("text").attr("y", 4).attr("text-anchor", "middle")
    .attr("font-size", 11).attr("font-weight", "bold").attr("fill", iconGray).text("?");
}

// everything below sits on top of the plots
function addCircle(p, pos, color) {
  svg.append("circle")
    .attr("cx", p.x(pos[0])).attr("cy", p.y(pos[1])).attr("r", 45.3)
    .attr("fill", color).attr("fill-opacity", 0.4);
}
addCircle(panels[1], earlyYellow, "yellow");
addCircle(panels[3], nominalYellow, "yellow");
addCircle(panels[3], nominalGray, "gray");
addCircle(panels[5], mdopticYellow, "yellow");
addCircle(panels[5], mdopticGray, "gray");

svg.append("line")
  .attr("x1", panels[1].x(earlyTrend[0][0])).attr("y1", panels[1].y(earlyTrend[0][1]))
  .attr("x2", panels[1].x(earlyTrend[1][0])).attr("y2", panels[1].y(earlyTrend[1][1]))
  .attr("stroke", "#ffff00").attr("stroke-width", 5).attr("stroke-dasharray", "18.4 6.3");

svg.append("line")
  .attr("x1", panels[0].x(orangeHour)).attr("x2", panels[0].x(orangeHour))
  .attr("y1", 47.7).attr("y2", 1440)
  .attr("stroke", "#ed7d31").attr("stroke-width", 6.3).attr("stroke-dasharray", "18.2 6.13");

svg.append("line")
  .attr("x1", panels[0].x(blueHour)).attr("x2", panels[0].x(blueHour))
  .attr("y1", 35).attr("y2", 1411)
  .attr("stroke", "#4472c4").attr("stroke-width", 6.3).attr("stroke-dasharray", "18.2 6.13");
</script>
</body>
</html>
